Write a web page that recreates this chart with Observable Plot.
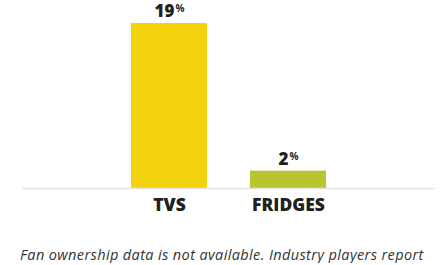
<!DOCTYPE html>
<html>
<head>
<meta charset="utf-8">
<script src="https://cdn.jsdelivr.net/npm/d3@7"></script>
<script src="https://cdn.jsdelivr.net/npm/@observablehq/plot@0.6"></script>
<style>
  html, body { margin: 0; padding: 0; background: #fff; }
  #chart { width: 441px; }
  .caption { font-family: "Open Sans", Lato, sans-serif; font-style: italic; font-size: 14.5px; letter-spacing: 0.38px; color: #333; margin: 0 0 0 20px; white-space: nowrap; line-height: 1; }
</style>
</head>
<body>
<div id="chart"></div>
<script>
const categories = ["TVS", "FRIDGES"];
const values = [19, 2];
const colors = ["#F4D20C", "#BAC431"];
const captionText = "Fan ownership data is not available. Industry players report";

const data = categories.map((c, i) => ({category: c, value: values[i], color: colors[i]}));

const chart = Plot.plot({
  width: 441,
  height: 222,
  marginTop: 23,
  marginBottom: 34,
  marginLeft: 22,
  marginRight: 6,
  style: {fontFamily: "'Open Sans', Lato, sans-serif", background: "#fff"},
  x: {domain: categories, paddingInner: 0.358, paddingOuter: 0.9, label: null, axis: null},
  y: {domain: [0, 19], axis: null},
  marks: [
    Plot.barY(data, {x: "category", y: "value", fill: "color"}),
    Plot.ruleY([0], {stroke: "#e4e4e4", strokeWidth: 1.6}),
    Plot.text(data, {x: "category", y: "value", text: d => d.value + "%", dy: -11.5, fill: "#231f20", fontSize: 17, fontWeight: 800, className: "vlabel"}),
    Plot.text(data, {x: "category", y: 0, text: "category", dy: 17, fill: "#231f20", fontSize: 17.5, fontWeight: 800})
  ]
});
document.getElementById("chart").appendChild(chart);

// superscript percent signs
d3.select(chart).selectAll(".vlabel text").each(function() {
  const t = d3.select(this);
  const s = t.text();
  const num = s.replace("%", "");
  t.text(num);
  t.append("tspan").attr("font-size", 10).attr("font-weight", 700).attr("dy", "-0.55em").attr("dx", 1).text("%");
});

const cap = document.createElement("div");
cap.className = "caption";
cap.style.marginTop = "26px";
cap.textContent = captionText;
document.body.appendChild(cap);
</script>
</body>
</html>
